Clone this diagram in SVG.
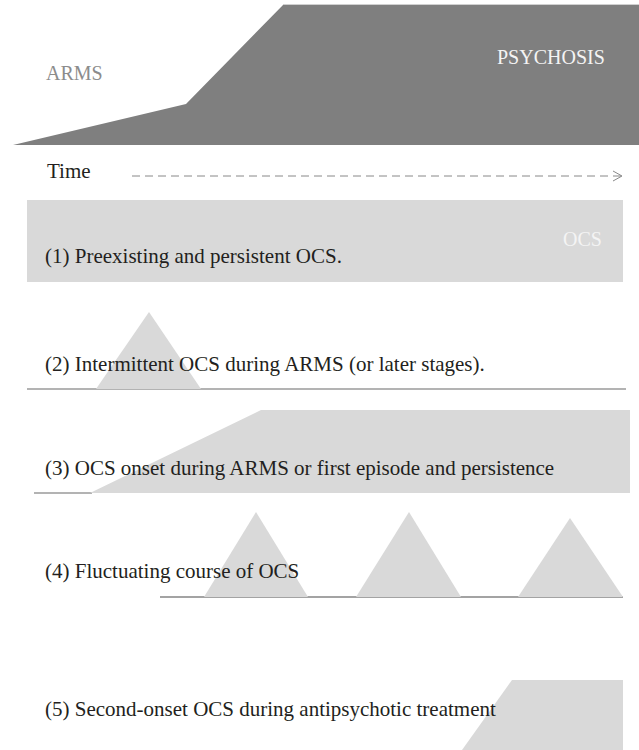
<svg xmlns="http://www.w3.org/2000/svg" width="639" height="750" viewBox="0 0 639 750">
<style>
text{font-family:'Liberation Serif','Times New Roman','DejaVu Serif',serif}
.lbl{font-size:21px;fill:#231f20}
.hdr{font-size:20px}
.ocs{fill:#d9d9d9}
.base{stroke:#9a9a9a;stroke-width:1.5;fill:none}
</style>
<defs>
<marker id="chev" markerWidth="12" markerHeight="12" refX="10" refY="6" orient="auto" markerUnits="userSpaceOnUse">
<path d="M1,1 L10,6 L1,11" fill="none" stroke="#888" stroke-width="1"/>
</marker>
</defs>
<g id="stages">
<polygon points="13,145 186,104 283,5 639,5 639,145" fill="#7f7f7f"/>
<line x1="283" y1="4.5" x2="639" y2="4.5" stroke="#d0d0d0" stroke-width="1"/>
<text class="hdr" x="46" y="80" fill="#8c8c8c">ARMS</text>
<text class="hdr" x="497" y="64" fill="#f4f4f4">PSYCHOSIS</text>
</g>
<g id="time">
<text class="lbl" x="47" y="178">Time</text>
</g>
<g id="connectors">
<line x1="132" y1="176" x2="622" y2="176" stroke="#888" stroke-width="1" stroke-dasharray="8,5" marker-end="url(#chev)"/>
</g>
<g id="row1">
<rect class="ocs" x="27" y="200" width="596" height="82"/>
<text class="hdr" x="563" y="246" fill="#f4f4f4">OCS</text>
<text class="lbl" x="45" y="263">(1) Preexisting and persistent OCS.</text>
</g>
<g id="row2">
<line class="base" x1="27" y1="389" x2="626" y2="389"/>
<polygon class="ocs" points="149,312 201,389 96,389"/>
<text class="lbl" x="45" y="371">(2) Intermittent OCS during ARMS (or later stages).</text>
</g>
<g id="row3">
<line class="base" x1="34" y1="493" x2="92" y2="493"/>
<polygon class="ocs" points="90,493 261,410 630,410 630,493"/>
<text class="lbl" x="45" y="475">(3) OCS onset during ARMS or first episode and persistence</text>
</g>
<g id="row4">
<line x1="160" y1="597" x2="623" y2="597" stroke="#a3a3a3" stroke-width="2"/>
<polygon class="ocs" points="256,512 308,597 204,597"/>
<polygon class="ocs" points="409,512 461,597 356,597"/>
<polygon class="ocs" points="570,518 623,597 518,597"/>
<text class="lbl" x="45" y="578">(4) Fluctuating course of OCS</text>
</g>
<g id="row5">
<polygon class="ocs" points="512,680 623,680 623,750 462,750"/>
<text class="lbl" x="45" y="716">(5) Second-onset OCS during antipsychotic treatment</text>
</g>
</svg>
